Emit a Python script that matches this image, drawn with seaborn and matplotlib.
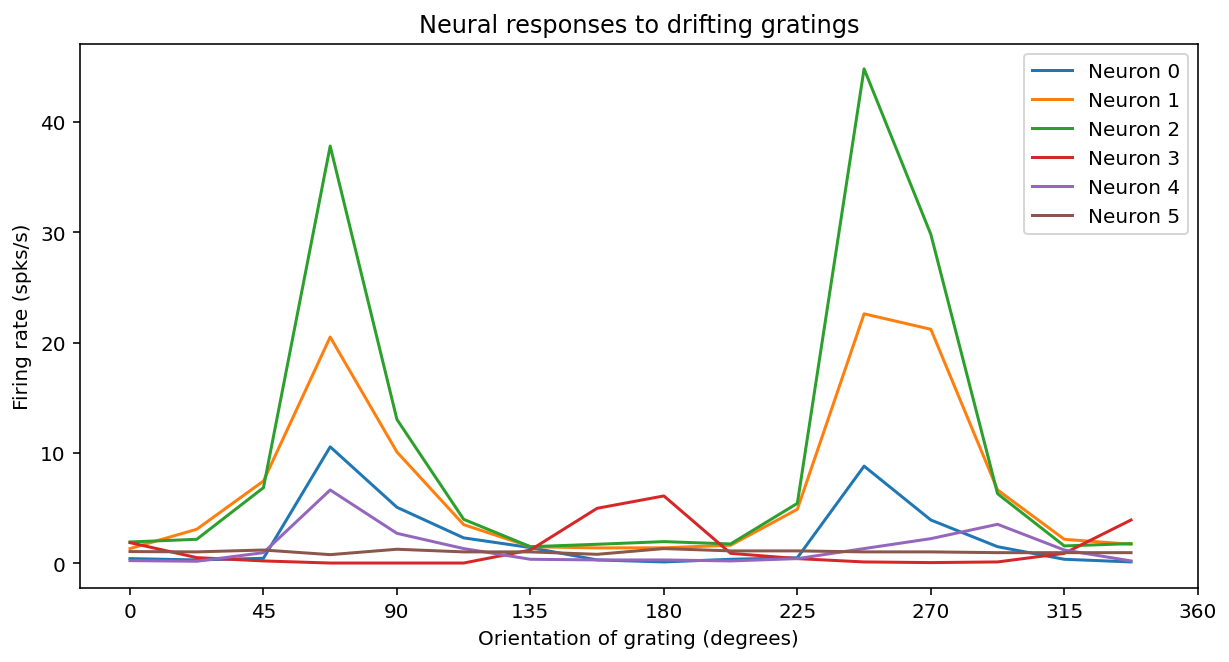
import numpy as np
import pandas as pd
import matplotlib
matplotlib.use("Agg")
import matplotlib.pyplot as plt
import seaborn as sns

orientations = [0, 22.5, 45, 67.5, 90, 112.5, 135, 157.5, 180, 202.5, 225, 247.5, 270, 292.5, 315, 337.5]
neuron_0 = [0.42, 0.30, 0.45, 10.55, 5.07, 2.30, 1.42, 0.30, 0.12, 0.36, 0.50, 8.80, 3.92, 1.50, 0.36, 0.12]
neuron_1 = [1.33, 3.08, 7.45, 20.5, 10.08, 3.50, 1.50, 1.39, 1.40, 1.63, 4.89, 22.6, 21.2, 6.64, 2.17, 1.72]
neuron_2 = [1.93, 2.17, 6.85, 37.8, 13.03, 3.98, 1.50, 1.72, 1.96, 1.75, 5.43, 44.8, 29.8, 6.30, 1.57, 1.78]
neuron_3 = [1.87, 0.51, 0.21, 0.02, 0.02, 0.02, 1.20, 4.98, 6.10, 0.90, 0.42, 0.12, 0.06, 0.12, 0.90, 3.92]
neuron_4 = [0.24, 0.18, 0.96, 6.64, 2.71, 1.33, 0.36, 0.30, 0.30, 0.21, 0.42, 1.33, 2.23, 3.53, 1.20, 0.21]
neuron_5 = [1.06, 1.03, 1.20, 0.78, 1.27, 1.03, 1.03, 0.81, 1.33, 1.12, 1.12, 1.03, 1.03, 0.96, 0.96, 0.96]
neuron_labels = ["Neuron 0", "Neuron 1", "Neuron 2", "Neuron 3", "Neuron 4", "Neuron 5"]
xtick_values = [0, 45, 90, 135, 180, 225, 270, 315, 360]

series = [neuron_0, neuron_1, neuron_2, neuron_3, neuron_4, neuron_5]
rows = []
for lab, vals in zip(neuron_labels, series):
    for o, v in zip(orientations, vals):
        rows.append({"orientation": o, "rate": v, "neuron": lab})
df = pd.DataFrame(rows)

fig, ax = plt.subplots(figsize=(8.54, 4.604), dpi=144)
sns.lineplot(data=df, x="orientation", y="rate", hue="neuron",
             palette=sns.color_palette("tab10", 6), ax=ax, linewidth=1.5)
ax.set_xticks(xtick_values)
ax.set_xlabel("Orientation of grating (degrees)")
ax.set_ylabel("Firing rate (spks/s)")
ax.set_title("Neural responses to drifting gratings")
ax.legend(loc="upper right")
fig.subplots_adjust(left=0.065, right=0.974, top=0.932, bottom=0.112)
fig.savefig("out.png", dpi=144)
